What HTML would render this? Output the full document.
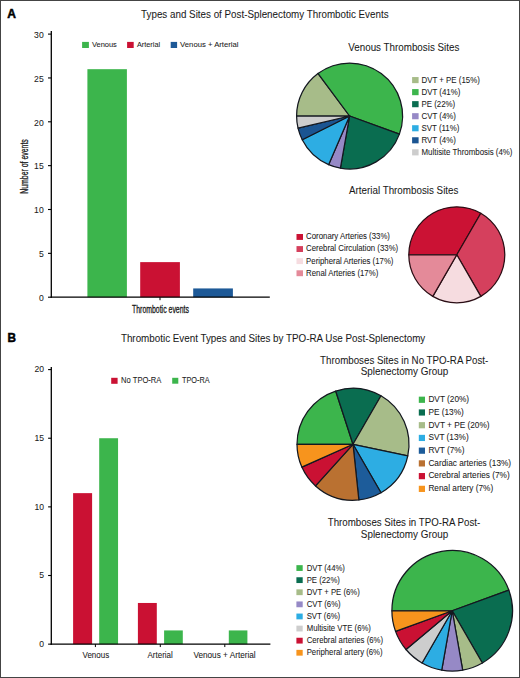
<!DOCTYPE html>
<html><head><meta charset="utf-8"><style>
html,body{margin:0;padding:0;background:#fff;overflow:hidden;}
svg{display:block;}
text{font-family:"Liberation Sans",sans-serif;}
</style></head><body>
<svg width="520" height="678" viewBox="0 0 520 678">
<rect width="520" height="678" fill="#fff"/>
<rect x="0.5" y="0.5" width="519" height="677" fill="none" stroke="#444" stroke-width="1"/>
<text transform="translate(7.30,17.80) scale(0.9556,1)" font-size="12.6" font-weight="bold" fill="#000" stroke="#000" stroke-width="0.5">A</text>
<text transform="translate(141.10,17.50) scale(0.9356,1)" font-size="10.5" fill="#1a1a1a" stroke="#1a1a1a" stroke-width="0.06">Types and Sites of Post-Splenectomy Thrombotic Events</text>
<line x1="48" y1="297.2" x2="51.3" y2="297.2" stroke="#000" stroke-width="1.1"/>
<text transform="translate(38.90,300.90) scale(1.0000,1)" font-size="8.6" fill="#1a1a1a" stroke="#1a1a1a" stroke-width="0.06">0</text>
<line x1="48" y1="253.35" x2="51.3" y2="253.35" stroke="#000" stroke-width="1.1"/>
<text transform="translate(38.90,257.05) scale(1.0000,1)" font-size="8.6" fill="#1a1a1a" stroke="#1a1a1a" stroke-width="0.06">5</text>
<line x1="48" y1="209.5" x2="51.3" y2="209.5" stroke="#000" stroke-width="1.1"/>
<text transform="translate(34.12,213.20) scale(1.0000,1)" font-size="8.6" fill="#1a1a1a" stroke="#1a1a1a" stroke-width="0.06">10</text>
<line x1="48" y1="165.65" x2="51.3" y2="165.65" stroke="#000" stroke-width="1.1"/>
<text transform="translate(34.12,169.35) scale(1.0000,1)" font-size="8.6" fill="#1a1a1a" stroke="#1a1a1a" stroke-width="0.06">15</text>
<line x1="48" y1="121.80000000000001" x2="51.3" y2="121.80000000000001" stroke="#000" stroke-width="1.1"/>
<text transform="translate(34.12,125.50) scale(1.0000,1)" font-size="8.6" fill="#1a1a1a" stroke="#1a1a1a" stroke-width="0.06">20</text>
<line x1="48" y1="77.94999999999999" x2="51.3" y2="77.94999999999999" stroke="#000" stroke-width="1.1"/>
<text transform="translate(34.12,81.65) scale(1.0000,1)" font-size="8.6" fill="#1a1a1a" stroke="#1a1a1a" stroke-width="0.06">25</text>
<line x1="48" y1="34.10000000000002" x2="51.3" y2="34.10000000000002" stroke="#000" stroke-width="1.1"/>
<text transform="translate(34.12,37.80) scale(1.0000,1)" font-size="8.6" fill="#1a1a1a" stroke="#1a1a1a" stroke-width="0.06">30</text>
<line x1="160" y1="297.2" x2="160" y2="300.2" stroke="#000" stroke-width="1.0"/>
<rect x="87.40" y="69.18" width="39.50" height="228.02" fill="#3cb54c"/>
<rect x="140.20" y="262.12" width="39.70" height="35.08" fill="#ca1133"/>
<rect x="193.20" y="288.43" width="39.70" height="8.77" fill="#1d5997"/>
<line x1="51.3" y1="31" x2="51.3" y2="297.84999999999997" stroke="#000" stroke-width="1.3"/>
<line x1="50.65" y1="297.2" x2="269.8" y2="297.2" stroke="#000" stroke-width="1.3"/>
<text transform="translate(132.00,312.50) scale(0.6730,1)" font-size="10.3" fill="#1a1a1a" stroke="#1a1a1a" stroke-width="0.3">Thrombotic events</text>
<text transform="translate(28.20,193.70) rotate(-90) scale(0.6584,1)" font-size="10.5" fill="#1a1a1a" stroke="#1a1a1a" stroke-width="0.3">Number of events</text>
<rect x="82.10" y="41.90" width="6.80" height="6.10" fill="#3cb54c"/>
<text transform="translate(91.90,47.20) scale(0.9477,1)" font-size="7.9" fill="#1a1a1a" stroke="#1a1a1a" stroke-width="0.06">Venous</text>
<rect x="127.10" y="41.90" width="6.60" height="6.10" fill="#ca1133"/>
<text transform="translate(136.90,47.20) scale(0.9271,1)" font-size="7.9" fill="#1a1a1a" stroke="#1a1a1a" stroke-width="0.06">Arterial</text>
<rect x="170.70" y="41.90" width="6.40" height="6.10" fill="#1d5997"/>
<text transform="translate(180.10,47.20) scale(0.9759,1)" font-size="7.9" fill="#1a1a1a" stroke="#1a1a1a" stroke-width="0.06">Venous + Arterial</text>
<text transform="translate(348.30,50.90) scale(0.9343,1)" font-size="10.5" fill="#1a1a1a" stroke="#1a1a1a" stroke-width="0.06">Venous Thrombosis Sites</text>
<path d="M349.60,116.00 L296.60,116.00 A53,53 0 0 1 317.95,73.49 Z" fill="#a7bc89" stroke="#141820" stroke-width="1.25" stroke-linejoin="round"/>
<path d="M349.60,116.00 L317.95,73.49 A53,53 0 0 1 399.40,134.13 Z" fill="#3cb54c" stroke="#141820" stroke-width="1.25" stroke-linejoin="round"/>
<path d="M349.60,116.00 L399.40,134.13 A53,53 0 0 1 340.40,168.19 Z" fill="#0a6d50" stroke="#141820" stroke-width="1.25" stroke-linejoin="round"/>
<path d="M349.60,116.00 L340.40,168.19 A53,53 0 0 1 328.61,164.67 Z" fill="#9689c6" stroke="#141820" stroke-width="1.25" stroke-linejoin="round"/>
<path d="M349.60,116.00 L328.61,164.67 A53,53 0 0 1 302.24,139.79 Z" fill="#2dade3" stroke="#141820" stroke-width="1.25" stroke-linejoin="round"/>
<path d="M349.60,116.00 L302.24,139.79 A53,53 0 0 1 298.03,128.22 Z" fill="#1b5592" stroke="#141820" stroke-width="1.25" stroke-linejoin="round"/>
<path d="M349.60,116.00 L298.03,128.22 A53,53 0 0 1 296.60,116.00 Z" fill="#cdcdcd" stroke="#141820" stroke-width="1.25" stroke-linejoin="round"/>
<rect x="412.10" y="77.05" width="6.50" height="6.10" fill="#a7bc89"/>
<text transform="translate(421.50,82.55) scale(0.9400,1)" font-size="8.4" fill="#1a1a1a" stroke="#1a1a1a" stroke-width="0.06">DVT + PE (15%)</text>
<rect x="412.10" y="89.09" width="6.50" height="6.10" fill="#3cb54c"/>
<text transform="translate(421.50,94.59) scale(0.9400,1)" font-size="8.4" fill="#1a1a1a" stroke="#1a1a1a" stroke-width="0.06">DVT (41%)</text>
<rect x="412.10" y="101.13" width="6.50" height="6.10" fill="#0a6d50"/>
<text transform="translate(421.50,106.63) scale(0.9400,1)" font-size="8.4" fill="#1a1a1a" stroke="#1a1a1a" stroke-width="0.06">PE (22%)</text>
<rect x="412.10" y="113.17" width="6.50" height="6.10" fill="#9689c6"/>
<text transform="translate(421.50,118.67) scale(0.9400,1)" font-size="8.4" fill="#1a1a1a" stroke="#1a1a1a" stroke-width="0.06">CVT (4%)</text>
<rect x="412.10" y="125.21" width="6.50" height="6.10" fill="#2dade3"/>
<text transform="translate(421.50,130.71) scale(0.9400,1)" font-size="8.4" fill="#1a1a1a" stroke="#1a1a1a" stroke-width="0.06">SVT (11%)</text>
<rect x="412.10" y="137.25" width="6.50" height="6.10" fill="#1b5592"/>
<text transform="translate(421.50,142.75) scale(0.9400,1)" font-size="8.4" fill="#1a1a1a" stroke="#1a1a1a" stroke-width="0.06">RVT (4%)</text>
<rect x="412.10" y="149.29" width="6.50" height="6.10" fill="#cdcdcd"/>
<text transform="translate(421.50,154.79) scale(0.9400,1)" font-size="8.4" fill="#1a1a1a" stroke="#1a1a1a" stroke-width="0.06">Multisite Thrombosis (4%)</text>
<text transform="translate(349.00,194.40) scale(0.9356,1)" font-size="10.5" fill="#1a1a1a" stroke="#1a1a1a" stroke-width="0.06">Arterial Thrombosis Sites</text>
<path d="M456.80,254.80 L408.80,254.80 A48,48 0 0 1 480.80,213.23 Z" fill="#cb1234" stroke="#2a0d14" stroke-width="1.25" stroke-linejoin="round"/>
<path d="M456.80,254.80 L480.80,213.23 A48,48 0 0 1 480.80,296.37 Z" fill="#d5405d" stroke="#2a0d14" stroke-width="1.25" stroke-linejoin="round"/>
<path d="M456.80,254.80 L480.80,296.37 A48,48 0 0 1 432.80,296.37 Z" fill="#f6dce0" stroke="#2a0d14" stroke-width="1.25" stroke-linejoin="round"/>
<path d="M456.80,254.80 L432.80,296.37 A48,48 0 0 1 408.80,254.80 Z" fill="#e48a99" stroke="#2a0d14" stroke-width="1.25" stroke-linejoin="round"/>
<rect x="296.50" y="234.00" width="6.50" height="5.90" fill="#cb1234"/>
<text transform="translate(306.10,239.30) scale(0.9320,1)" font-size="8.4" fill="#1a1a1a" stroke="#1a1a1a" stroke-width="0.06">Coronary Arteries (33%)</text>
<rect x="296.50" y="246.10" width="6.50" height="5.90" fill="#d5405d"/>
<text transform="translate(306.10,251.40) scale(0.9320,1)" font-size="8.4" fill="#1a1a1a" stroke="#1a1a1a" stroke-width="0.06">Cerebral Circulation (33%)</text>
<rect x="296.50" y="258.20" width="6.50" height="5.90" fill="#f6dce0"/>
<text transform="translate(306.10,263.50) scale(0.9320,1)" font-size="8.4" fill="#1a1a1a" stroke="#1a1a1a" stroke-width="0.06">Peripheral Arteries (17%)</text>
<rect x="296.50" y="270.30" width="6.50" height="5.90" fill="#e48a99"/>
<text transform="translate(306.10,275.60) scale(0.9320,1)" font-size="8.4" fill="#1a1a1a" stroke="#1a1a1a" stroke-width="0.06">Renal Arteries (17%)</text>
<text transform="translate(7.50,342.00) scale(0.9333,1)" font-size="12.6" font-weight="bold" fill="#000" stroke="#000" stroke-width="0.5">B</text>
<text transform="translate(120.90,342.10) scale(0.9377,1)" font-size="10.5" fill="#1a1a1a" stroke="#1a1a1a" stroke-width="0.06">Thrombotic Event Types and Sites by TPO-RA Use Post-Splenectomy</text>
<line x1="48.1" y1="644.15" x2="51.3" y2="644.15" stroke="#000" stroke-width="1.1"/>
<text transform="translate(39.30,647.05) scale(1.0000,1)" font-size="8.6" fill="#1a1a1a" stroke="#1a1a1a" stroke-width="0.06">0</text>
<line x1="48.1" y1="575.51" x2="51.3" y2="575.51" stroke="#000" stroke-width="1.1"/>
<text transform="translate(39.30,578.41) scale(1.0000,1)" font-size="8.6" fill="#1a1a1a" stroke="#1a1a1a" stroke-width="0.06">5</text>
<line x1="48.1" y1="506.87" x2="51.3" y2="506.87" stroke="#000" stroke-width="1.1"/>
<text transform="translate(34.52,509.77) scale(1.0000,1)" font-size="8.6" fill="#1a1a1a" stroke="#1a1a1a" stroke-width="0.06">10</text>
<line x1="48.1" y1="438.23" x2="51.3" y2="438.23" stroke="#000" stroke-width="1.1"/>
<text transform="translate(34.52,441.13) scale(1.0000,1)" font-size="8.6" fill="#1a1a1a" stroke="#1a1a1a" stroke-width="0.06">15</text>
<line x1="48.1" y1="369.59" x2="51.3" y2="369.59" stroke="#000" stroke-width="1.1"/>
<text transform="translate(34.52,372.49) scale(1.0000,1)" font-size="8.6" fill="#1a1a1a" stroke="#1a1a1a" stroke-width="0.06">20</text>
<line x1="95.4" y1="644.15" x2="95.4" y2="647.05" stroke="#000" stroke-width="1.0"/>
<line x1="160.3" y1="644.15" x2="160.3" y2="647.05" stroke="#000" stroke-width="1.0"/>
<line x1="224.8" y1="644.15" x2="224.8" y2="647.05" stroke="#000" stroke-width="1.0"/>
<rect x="73.10" y="493.14" width="19.00" height="151.01" fill="#ca1133"/>
<rect x="99.20" y="438.23" width="18.85" height="205.92" fill="#3cb54c"/>
<rect x="137.90" y="602.97" width="18.90" height="41.18" fill="#ca1133"/>
<rect x="164.10" y="630.42" width="18.70" height="13.73" fill="#3cb54c"/>
<rect x="228.80" y="630.42" width="18.60" height="13.73" fill="#3cb54c"/>
<line x1="51.3" y1="367" x2="51.3" y2="644.8" stroke="#000" stroke-width="1.3"/>
<line x1="50.65" y1="644.15" x2="270.4" y2="644.15" stroke="#000" stroke-width="1.3"/>
<text transform="translate(82.50,657.90) scale(0.9548,1)" font-size="8.4" fill="#1a1a1a" stroke="#1a1a1a" stroke-width="0.06">Venous</text>
<text transform="translate(147.50,657.90) scale(0.9525,1)" font-size="8.4" fill="#1a1a1a" stroke="#1a1a1a" stroke-width="0.06">Arterial</text>
<text transform="translate(193.40,658.00) scale(0.9789,1)" font-size="8.4" fill="#1a1a1a" stroke="#1a1a1a" stroke-width="0.06">Venous + Arterial</text>
<rect x="111.20" y="377.80" width="6.40" height="6.00" fill="#ca1133"/>
<text transform="translate(121.10,383.40) scale(0.9027,1)" font-size="8.4" fill="#1a1a1a" stroke="#1a1a1a" stroke-width="0.06">No TPO-RA</text>
<rect x="172.20" y="377.80" width="6.10" height="5.90" fill="#3cb54c"/>
<text transform="translate(182.00,383.30) scale(0.8704,1)" font-size="8.4" fill="#1a1a1a" stroke="#1a1a1a" stroke-width="0.06">TPO-RA</text>
<text transform="translate(320.10,363.50) scale(0.9285,1)" font-size="10.5" fill="#1a1a1a" stroke="#1a1a1a" stroke-width="0.06">Thromboses Sites in No TPO-RA Post-</text>
<text transform="translate(360.70,375.40) scale(0.9456,1)" font-size="10.5" fill="#1a1a1a" stroke="#1a1a1a" stroke-width="0.06">Splenectomy Group</text>
<path d="M353.00,444.30 L297.00,444.30 A56,56 0 0 1 335.70,391.04 Z" fill="#3cb54c" stroke="#141820" stroke-width="1.25" stroke-linejoin="round"/>
<path d="M353.00,444.30 L335.70,391.04 A56,56 0 0 1 381.00,395.80 Z" fill="#0a6d50" stroke="#141820" stroke-width="1.25" stroke-linejoin="round"/>
<path d="M353.00,444.30 L381.00,395.80 A56,56 0 0 1 407.78,455.94 Z" fill="#a7bc89" stroke="#141820" stroke-width="1.25" stroke-linejoin="round"/>
<path d="M353.00,444.30 L407.78,455.94 A56,56 0 0 1 381.00,492.80 Z" fill="#2dade3" stroke="#141820" stroke-width="1.25" stroke-linejoin="round"/>
<path d="M353.00,444.30 L381.00,492.80 A56,56 0 0 1 358.85,499.99 Z" fill="#1d5c9a" stroke="#141820" stroke-width="1.25" stroke-linejoin="round"/>
<path d="M353.00,444.30 L358.85,499.99 A56,56 0 0 1 315.53,485.92 Z" fill="#ba7131" stroke="#141820" stroke-width="1.25" stroke-linejoin="round"/>
<path d="M353.00,444.30 L315.53,485.92 A56,56 0 0 1 301.84,467.08 Z" fill="#ca1133" stroke="#141820" stroke-width="1.25" stroke-linejoin="round"/>
<path d="M353.00,444.30 L301.84,467.08 A56,56 0 0 1 297.00,444.30 Z" fill="#f7941d" stroke="#141820" stroke-width="1.25" stroke-linejoin="round"/>
<rect x="418.80" y="396.65" width="6.20" height="6.20" fill="#3cb54c"/>
<text transform="translate(428.40,402.05) scale(0.9850,1)" font-size="8.4" fill="#1a1a1a" stroke="#1a1a1a" stroke-width="0.06">DVT (20%)</text>
<rect x="418.80" y="409.38" width="6.20" height="6.20" fill="#0a6d50"/>
<text transform="translate(428.40,414.78) scale(0.9850,1)" font-size="8.4" fill="#1a1a1a" stroke="#1a1a1a" stroke-width="0.06">PE (13%)</text>
<rect x="418.80" y="422.11" width="6.20" height="6.20" fill="#a7bc89"/>
<text transform="translate(428.40,427.51) scale(0.9850,1)" font-size="8.4" fill="#1a1a1a" stroke="#1a1a1a" stroke-width="0.06">DVT + PE (20%)</text>
<rect x="418.80" y="434.84" width="6.20" height="6.20" fill="#2dade3"/>
<text transform="translate(428.40,440.24) scale(0.9850,1)" font-size="8.4" fill="#1a1a1a" stroke="#1a1a1a" stroke-width="0.06">SVT (13%)</text>
<rect x="418.80" y="447.57" width="6.20" height="6.20" fill="#1d5c9a"/>
<text transform="translate(428.40,452.97) scale(0.9850,1)" font-size="8.4" fill="#1a1a1a" stroke="#1a1a1a" stroke-width="0.06">RVT (7%)</text>
<rect x="418.80" y="460.30" width="6.20" height="6.20" fill="#ba7131"/>
<text transform="translate(428.40,465.70) scale(0.9850,1)" font-size="8.4" fill="#1a1a1a" stroke="#1a1a1a" stroke-width="0.06">Cardiac arteries (13%)</text>
<rect x="418.80" y="473.03" width="6.20" height="6.20" fill="#ca1133"/>
<text transform="translate(428.40,478.43) scale(0.9850,1)" font-size="8.4" fill="#1a1a1a" stroke="#1a1a1a" stroke-width="0.06">Cerebral arteries (7%)</text>
<rect x="418.80" y="485.76" width="6.20" height="6.20" fill="#f7941d"/>
<text transform="translate(428.40,491.16) scale(0.9850,1)" font-size="8.4" fill="#1a1a1a" stroke="#1a1a1a" stroke-width="0.06">Renal artery (7%)</text>
<text transform="translate(327.70,525.50) scale(0.9253,1)" font-size="10.5" fill="#1a1a1a" stroke="#1a1a1a" stroke-width="0.06">Thromboses Sites in TPO-RA Post-</text>
<text transform="translate(360.80,537.70) scale(0.9445,1)" font-size="10.5" fill="#1a1a1a" stroke="#1a1a1a" stroke-width="0.06">Splenectomy Group</text>
<path d="M452.20,610.75 L391.90,610.75 A60.3,60.3 0 0 1 508.86,590.13 Z" fill="#3cb54c" stroke="#141820" stroke-width="1.25" stroke-linejoin="round"/>
<path d="M452.20,610.75 L508.86,590.13 A60.3,60.3 0 0 1 482.35,662.97 Z" fill="#0a6d50" stroke="#141820" stroke-width="1.25" stroke-linejoin="round"/>
<path d="M452.20,610.75 L482.35,662.97 A60.3,60.3 0 0 1 462.67,670.13 Z" fill="#a7bc89" stroke="#141820" stroke-width="1.25" stroke-linejoin="round"/>
<path d="M452.20,610.75 L462.67,670.13 A60.3,60.3 0 0 1 441.73,670.13 Z" fill="#9689c6" stroke="#141820" stroke-width="1.25" stroke-linejoin="round"/>
<path d="M452.20,610.75 L441.73,670.13 A60.3,60.3 0 0 1 422.05,662.97 Z" fill="#2dade3" stroke="#141820" stroke-width="1.25" stroke-linejoin="round"/>
<path d="M452.20,610.75 L422.05,662.97 A60.3,60.3 0 0 1 406.01,649.51 Z" fill="#cdcdcd" stroke="#141820" stroke-width="1.25" stroke-linejoin="round"/>
<path d="M452.20,610.75 L406.01,649.51 A60.3,60.3 0 0 1 395.54,631.37 Z" fill="#ca1133" stroke="#141820" stroke-width="1.25" stroke-linejoin="round"/>
<path d="M452.20,610.75 L395.54,631.37 A60.3,60.3 0 0 1 391.90,610.75 Z" fill="#f7941d" stroke="#141820" stroke-width="1.25" stroke-linejoin="round"/>
<rect x="296.40" y="565.15" width="6.30" height="5.80" fill="#3cb54c"/>
<text transform="translate(306.70,570.60) scale(0.9250,1)" font-size="8.4" fill="#1a1a1a" stroke="#1a1a1a" stroke-width="0.06">DVT (44%)</text>
<rect x="296.40" y="577.25" width="6.30" height="5.80" fill="#0a6d50"/>
<text transform="translate(306.70,582.70) scale(0.9250,1)" font-size="8.4" fill="#1a1a1a" stroke="#1a1a1a" stroke-width="0.06">PE (22%)</text>
<rect x="296.40" y="589.35" width="6.30" height="5.80" fill="#a7bc89"/>
<text transform="translate(306.70,594.80) scale(0.9250,1)" font-size="8.4" fill="#1a1a1a" stroke="#1a1a1a" stroke-width="0.06">DVT + PE (6%)</text>
<rect x="296.40" y="601.45" width="6.30" height="5.80" fill="#9689c6"/>
<text transform="translate(306.70,606.90) scale(0.9250,1)" font-size="8.4" fill="#1a1a1a" stroke="#1a1a1a" stroke-width="0.06">CVT (6%)</text>
<rect x="296.40" y="613.55" width="6.30" height="5.80" fill="#2dade3"/>
<text transform="translate(306.70,619.00) scale(0.9250,1)" font-size="8.4" fill="#1a1a1a" stroke="#1a1a1a" stroke-width="0.06">SVT (6%)</text>
<rect x="296.40" y="625.65" width="6.30" height="5.80" fill="#cdcdcd"/>
<text transform="translate(306.70,631.10) scale(0.9250,1)" font-size="8.4" fill="#1a1a1a" stroke="#1a1a1a" stroke-width="0.06">Multisite VTE (6%)</text>
<rect x="296.40" y="637.75" width="6.30" height="5.80" fill="#ca1133"/>
<text transform="translate(306.70,643.20) scale(0.9250,1)" font-size="8.4" fill="#1a1a1a" stroke="#1a1a1a" stroke-width="0.06">Cerebral arteries (6%)</text>
<rect x="296.40" y="649.85" width="6.30" height="5.80" fill="#f7941d"/>
<text transform="translate(306.70,655.30) scale(0.9250,1)" font-size="8.4" fill="#1a1a1a" stroke="#1a1a1a" stroke-width="0.06">Peripheral artery (6%)</text>
</svg></body></html>
